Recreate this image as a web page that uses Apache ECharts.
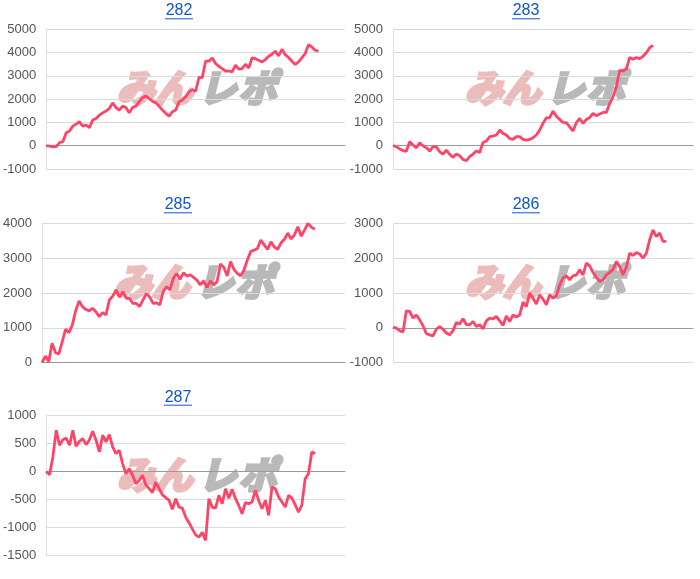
<!DOCTYPE html>
<html><head><meta charset="utf-8">
<script src="https://cdn.jsdelivr.net/npm/echarts@6/dist/echarts.min.js"></script>
<style>html,body{margin:0;padding:0;background:#fff}#c{width:700px;height:579px}</style>
</head><body><div id="c"></div>
<script>
// ---- data ----
const titles = ['282', '283', '285', '286', '287'];
const days = Array.from({length: 91}, (_, i) => String(i + 1));
const s282 = [0,-20,-50,-40,130,170,560,630,840,930,1030,840,890,770,1100,1170,1310,1410,1490,1600,1840,1640,1530,1700,1640,1410,1640,1700,1890,2060,2130,2030,1910,1840,1700,1530,1390,1270,1460,1530,1890,1960,2100,2310,2410,2340,2930,2930,3630,3630,3770,3530,3410,3310,3200,3210,3170,3460,3290,3310,3500,3340,3770,3740,3670,3600,3700,3840,3930,4060,3860,4140,3910,3790,3630,3490,3600,3770,3960,4340,4240,4100,4060];
const s283 = [0,-40,-140,-210,-240,170,30,-90,130,0,-90,-230,-40,-40,-260,-360,-190,-370,-500,-360,-430,-590,-640,-470,-360,-230,-290,140,200,390,410,460,670,530,460,310,270,390,390,270,240,270,340,460,670,960,1200,1210,1490,1270,1130,1000,990,810,630,990,1170,960,1130,1210,1390,1290,1360,1430,1430,1810,2100,2530,3240,3210,3290,3790,3710,3790,3740,3840,3990,4210,4310];
const s285 = [0,190,30,560,290,250,600,960,860,1080,1490,1770,1610,1530,1490,1560,1460,1320,1440,1370,1800,1910,2090,1880,2040,1850,1850,1700,1700,1610,1800,1990,1880,1700,1720,1660,2040,2180,2090,2420,2560,2390,2580,2490,2520,2450,2370,2230,2350,2160,2350,2230,2330,2830,2740,2490,2900,2680,2560,2490,2660,2950,3190,3230,3280,3520,3380,3250,3470,3320,3250,3440,3540,3720,3550,3670,3900,3630,3810,4000,3890,3830];
const s286 = [20,-10,-80,-120,490,470,280,370,230,60,-170,-200,-230,-40,40,-40,-150,-200,-80,150,110,260,90,90,180,40,90,-30,200,280,260,330,200,70,340,180,370,310,370,740,610,1000,850,680,950,820,660,950,850,920,1230,1430,1490,1380,1490,1520,1670,1520,1860,1780,1590,1450,1330,1380,1520,1590,1670,1900,1760,1520,1740,2140,2080,2160,2120,2000,2140,2530,2810,2620,2720,2480,2480];
const s287 = [0,-60,260,740,470,570,600,470,740,450,540,590,480,570,720,560,350,650,530,660,440,320,380,140,-40,50,-70,-220,-160,-70,-240,-310,-380,-190,-310,-420,-470,-520,-680,-490,-640,-660,-820,-920,-1030,-1140,-1180,-1090,-1240,-490,-640,-660,-430,-580,-310,-480,-320,-490,-610,-760,-560,-580,-550,-340,-520,-670,-520,-790,-280,-310,-460,-550,-640,-430,-480,-600,-730,-600,-130,-40,350,320];
const yMins = [-1000, -1000, 0, -1000, -1500];
const yMaxs = [5000, 5000, 4000, 3000, 1000];
const yIntervals = [1000, 1000, 1000, 1000, 500];
const seriesData = [s282, s283, s285, s286, s287];

// ---- layout ----
const grids = [
  {left: 45, top: 29.3, width: 300, height: 139.7},
  {left: 393, top: 29.3, width: 300, height: 139.7},
  {left: 42, top: 223.3, width: 303, height: 139.4},
  {left: 393, top: 223.3, width: 300, height: 139.4},
  {left: 45, top: 415.7, width: 300, height: 139.3}
];
const titleX = [179, 526, 178, 526, 178];
const lineColor = '#ff4468';

const chart = echarts.init(document.getElementById('c'), null, {renderer: 'canvas'});
const graphics = [];
const titleOpts = [];
const wmFont = 'italic bold 38px "Noto Sans CJK JP"';
const wmPink = '#ecbcbc';
const wmGray = '#b9b9b9';
grids.forEach((g, i) => {
  const ty = g.top - 26.5;
  titleOpts.push({
    text: titles[i], left: titleX[i], top: ty, textAlign: 'center', padding: 0,
    textStyle: {color: '#1155cc', fontSize: 16, fontWeight: 'normal', fontFamily: 'Liberation Sans, Arial, sans-serif'}
  });
  graphics.push({type: 'line', shape: {x1: titleX[i] - 14, y1: g.top - 10.5, x2: titleX[i] + 14, y2: g.top - 10.5},
    style: {stroke: '#1155cc', lineWidth: 1}, z: 10});
  // watermark glyphs
  const glyphs = [['み', 70, wmPink], ['ん', 108, wmPink], ['レ', 152, wmGray], ['ポ', 192, wmGray]];
  glyphs.forEach(([t, dx, col]) => {
    graphics.push({type: 'text', left: g.left + dx, top: g.top + 38, z: 0, silent: true,
      style: {text: t, font: wmFont, fill: col, stroke: col, lineWidth: 3.5}});
  });
});

const option = {
  animation: false,
  backgroundColor: '#fff',
  title: titleOpts,
  graphic: graphics,
  grid: grids.map(g => Object.assign({containLabel: false}, g)),
  xAxis: grids.map((g, i) => ({
    type: 'category', gridIndex: i, data: days, boundaryGap: false,
    axisLine: {show: true, onZero: true, lineStyle: {color: '#9a9a9a', width: 1}},
    axisTick: {show: false}, axisLabel: {show: false}, splitLine: {show: false}
  })),
  yAxis: grids.map((g, i) => ({
    type: 'value', gridIndex: i, min: yMins[i], max: yMaxs[i], interval: yIntervals[i],
    axisLine: {show: true, lineStyle: {color: '#e0e0e0'}},
    axisTick: {show: false},
    axisLabel: {color: '#555', fontSize: 13, margin: 10, fontFamily: 'Liberation Sans, Arial, sans-serif',
      formatter: v => String(v)},
    splitLine: {show: true, lineStyle: {color: '#dadada', width: 1}}
  })),
  series: seriesData.map((d, i) => ({
    type: 'line', xAxisIndex: i, yAxisIndex: i, data: d, showSymbol: false, symbol: 'none',
    lineStyle: {color: lineColor, width: 2.8}, z: 5
  }))
};
chart.setOption(option);
</script></body></html>
